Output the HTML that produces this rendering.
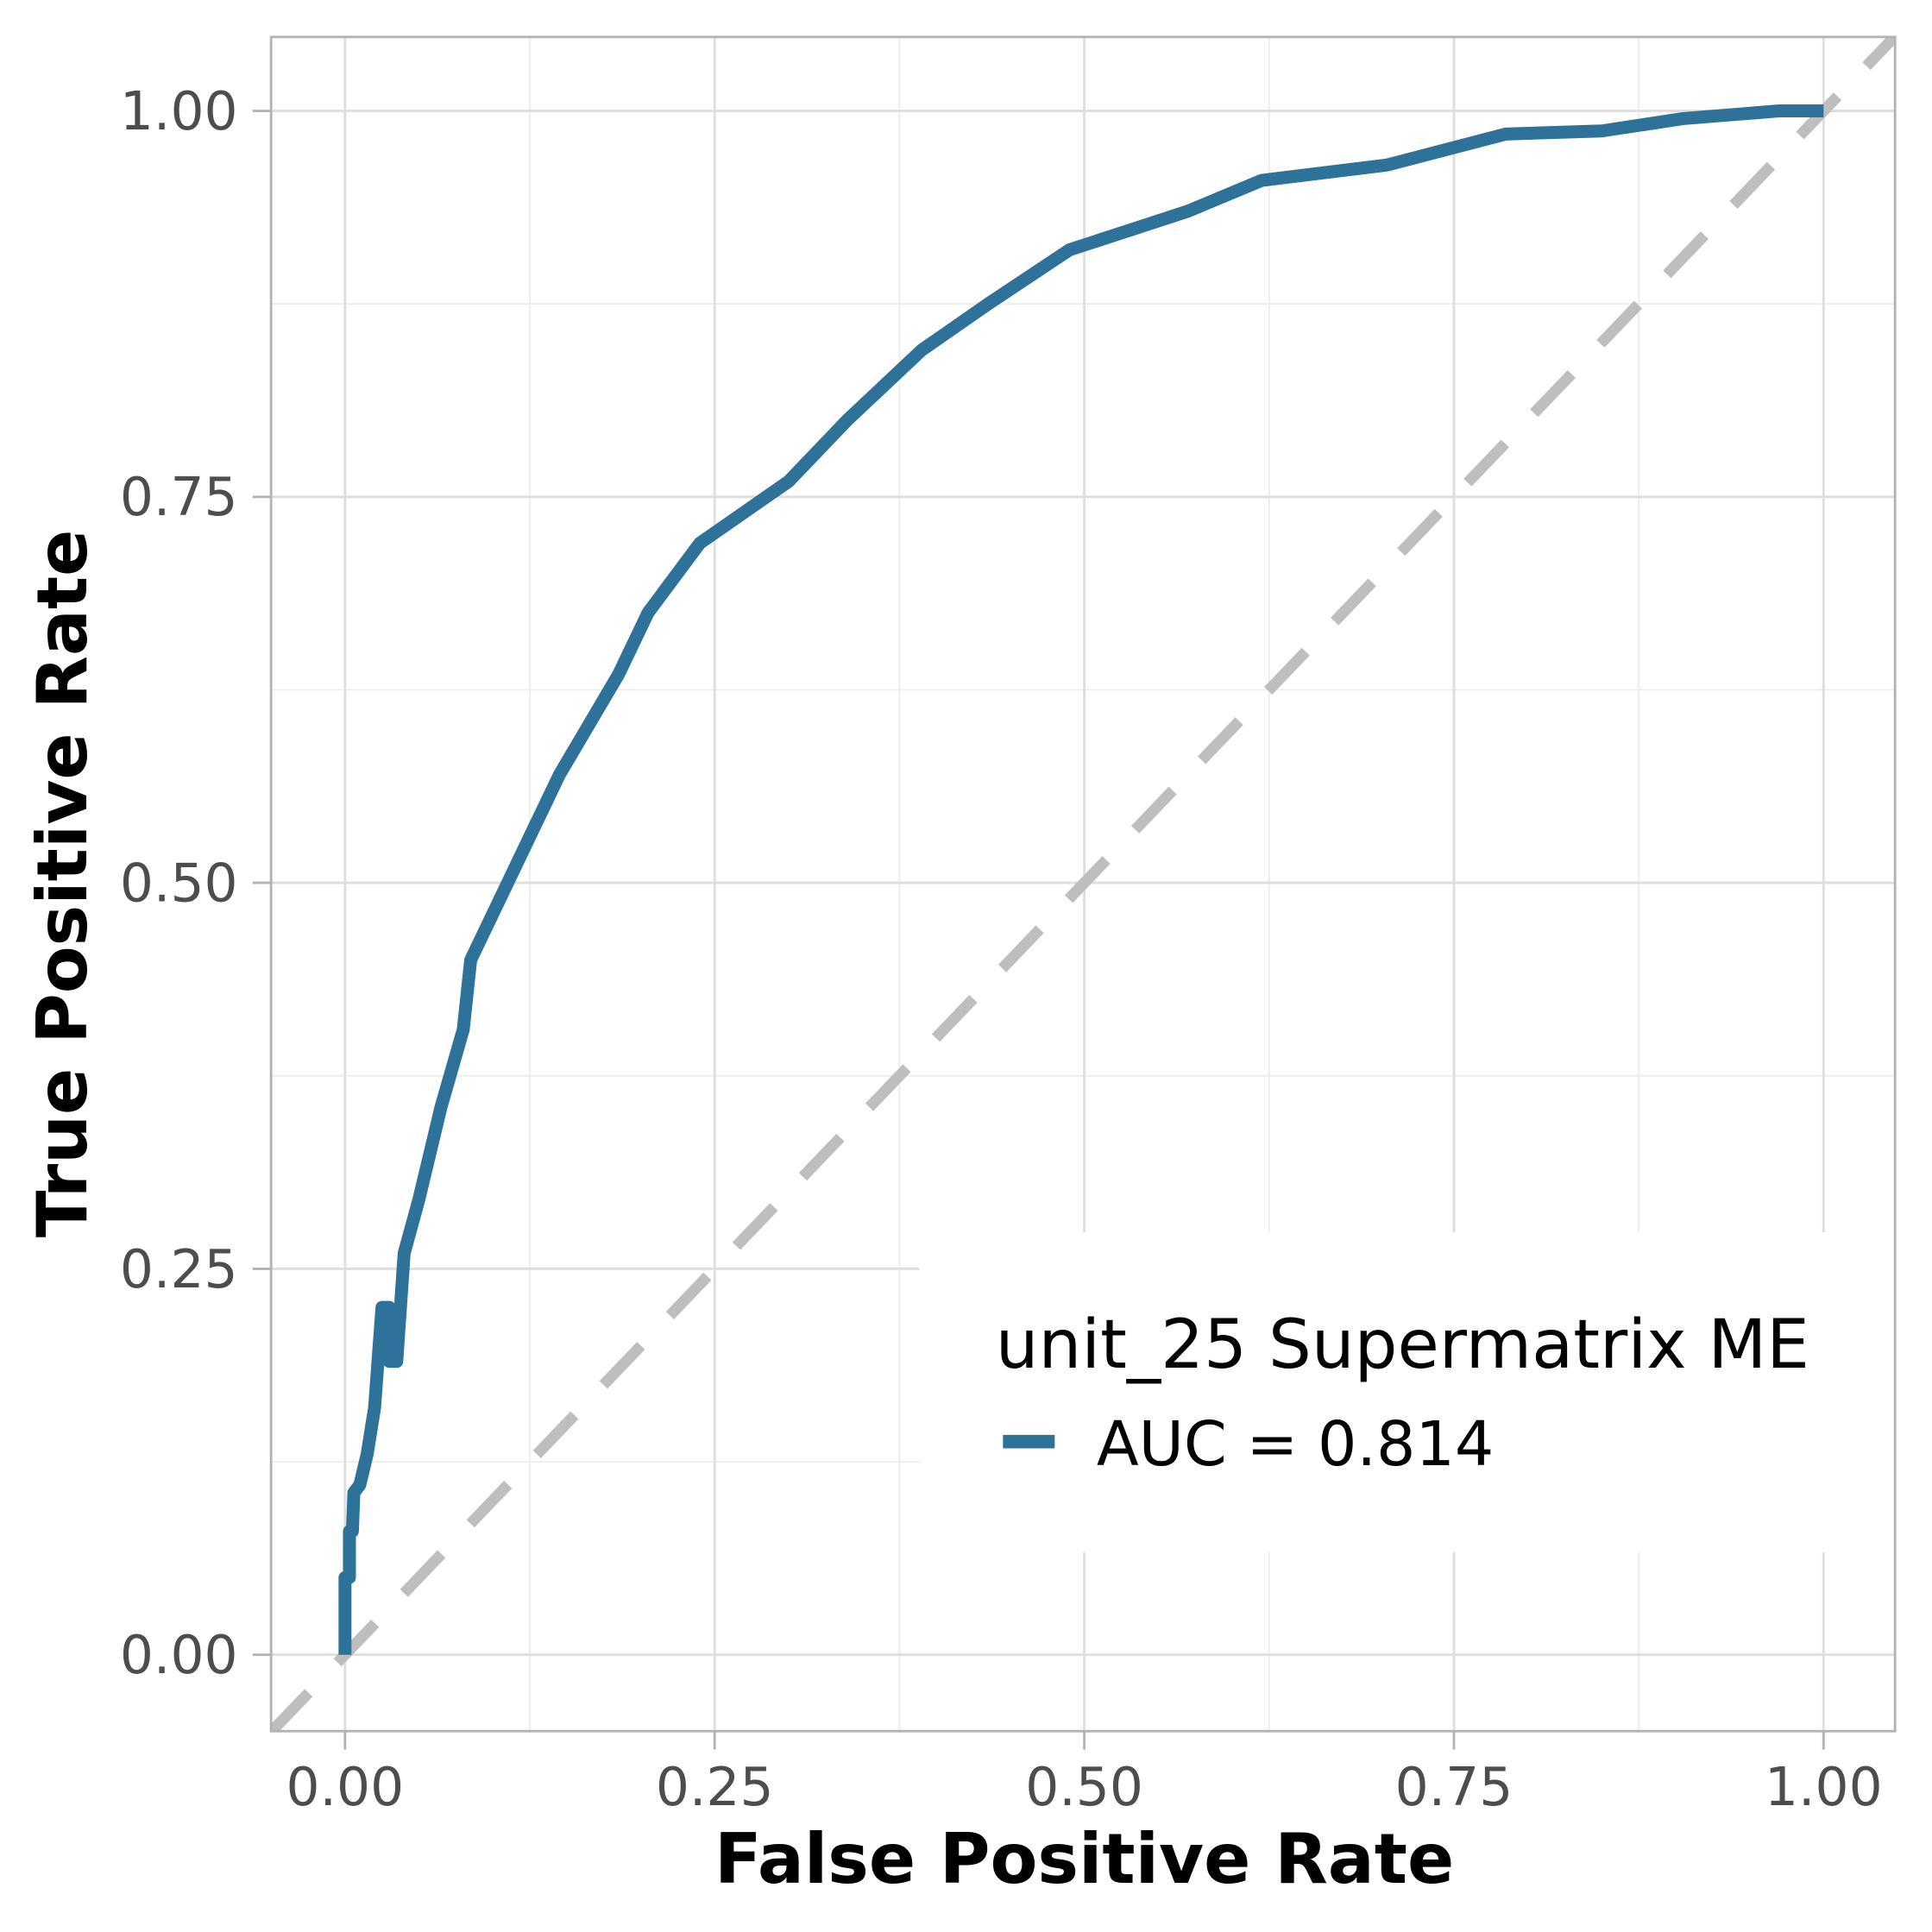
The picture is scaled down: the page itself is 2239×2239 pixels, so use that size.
<!DOCTYPE html>
<html><head><meta charset="utf-8"><style>html,body{margin:0;padding:0;background:#fff}svg{display:block}</style></head>
<body>
<svg id="chart" width="2239" height="2239" viewBox="0 0 1568 1568" xmlns="http://www.w3.org/2000/svg" font-family="'DejaVu Sans','Liberation Sans',sans-serif">
<g id="grid"></g>
<g id="plot"></g>
<rect x="746" y="1000" width="800" height="260" fill="#fff"/>
<rect x="220" y="30" width="1318" height="1375" fill="none" stroke="#b3b3b3" stroke-width="2"/>
<g id="axes"></g>
<text x="880" y="1528" text-anchor="middle" font-size="56" font-weight="bold" fill="#000">False Positive Rate</text>
<text transform="translate(70,717) rotate(-90)" text-anchor="middle" font-size="56" font-weight="bold" fill="#000">True Positive Rate</text>
<g>
<text x="808" y="1110" font-size="55" fill="#000">unit_25 Supermatrix ME</text>
<line x1="814" y1="1170" x2="856" y2="1170" stroke="#2e7199" stroke-width="11"/>
<text x="890" y="1189" font-size="50" fill="#000">AUC = 0.814</text>
</g>
</svg>
<script>
const fpr=[0,0,0.003,0.003,0.005,0.006,0.01,0.015,0.02,0.025,0.03,0.03,0.035,0.04,0.05,0.065,0.08,0.085,0.11,0.145,0.185,0.205,0.24,0.30,0.34,0.39,0.435,0.49,0.57,0.62,0.705,0.785,0.85,0.905,0.97,1];
const tpr=[0,0.05,0.05,0.08,0.08,0.105,0.11,0.13,0.16,0.225,0.225,0.19,0.19,0.26,0.295,0.355,0.405,0.45,0.50,0.57,0.635,0.675,0.72,0.76,0.80,0.845,0.875,0.91,0.935,0.955,0.965,0.985,0.987,0.995,1.0,1];
const majorTicks=[0,0.25,0.5,0.75,1];
const tickLabels=["0.00","0.25","0.50","0.75","1.00"];
const minorTicks=[0.125,0.375,0.625,0.875];
const NS='http://www.w3.org/2000/svg';
const X=v=>280+v*1200, Y=v=>1343-v*1253;
function mk(t,a,p){const e=document.createElementNS(NS,t);for(const k in a)e.setAttribute(k,a[k]);p.appendChild(e);return e;}
const grid=document.getElementById('grid'),plot=document.getElementById('plot'),axes=document.getElementById('axes');
minorTicks.forEach(v=>{
 let l=mk('line',{x1:X(v),x2:X(v),y1:30,y2:1405,stroke:'#ebebeb','stroke-width':1.2},grid);
 
 
 l=mk('line',{x1:220,x2:1538,y1:Y(v),y2:Y(v),stroke:'#ebebeb','stroke-width':1.2},grid);
 
 
});
majorTicks.forEach((v,i)=>{
 let l=mk('line',{x1:X(v),x2:X(v),y1:30,y2:1405,stroke:'#dedede','stroke-width':2},grid);
 
 
 l=mk('line',{x1:220,x2:1538,y1:Y(v),y2:Y(v),stroke:'#dedede','stroke-width':2},grid);
 
 
 l=mk('line',{x1:X(v),x2:X(v),y1:1405,y2:1420,stroke:'#b3b3b3','stroke-width':2},axes);
 
 
 l=mk('line',{x1:205,x2:220,y1:Y(v),y2:Y(v),stroke:'#b3b3b3','stroke-width':2},axes);
 
 
 let t=mk('text',{x:X(v),y:1465,'text-anchor':'middle','font-size':43,fill:'#4d4d4d'},axes);
 t.textContent=tickLabels[i];
 
 
 t=mk('text',{x:193,y:Y(v)+15,'text-anchor':'end','font-size':43,fill:'#4d4d4d'},axes);
 t.textContent=tickLabels[i];
 
 
});
const cp=mk('clipPath',{id:'pc'},plot);mk('rect',{x:220,y:30,width:1318,height:1375},cp);
const d=mk('line',{x1:X(-0.05),y1:Y(-0.05),x2:X(1.05),y2:Y(1.05),stroke:'#bebebe','stroke-width':9,'stroke-dasharray':'44 34','clip-path':'url(#pc)'},plot);


const pts=fpr.map((v,i)=>X(v)+','+Y(tpr[i])).join(' ');
const c=mk('polyline',{points:pts,fill:'none',stroke:'#2e7199','stroke-width':10.5,'stroke-linejoin':'round'},plot);


</script>
</body></html>
